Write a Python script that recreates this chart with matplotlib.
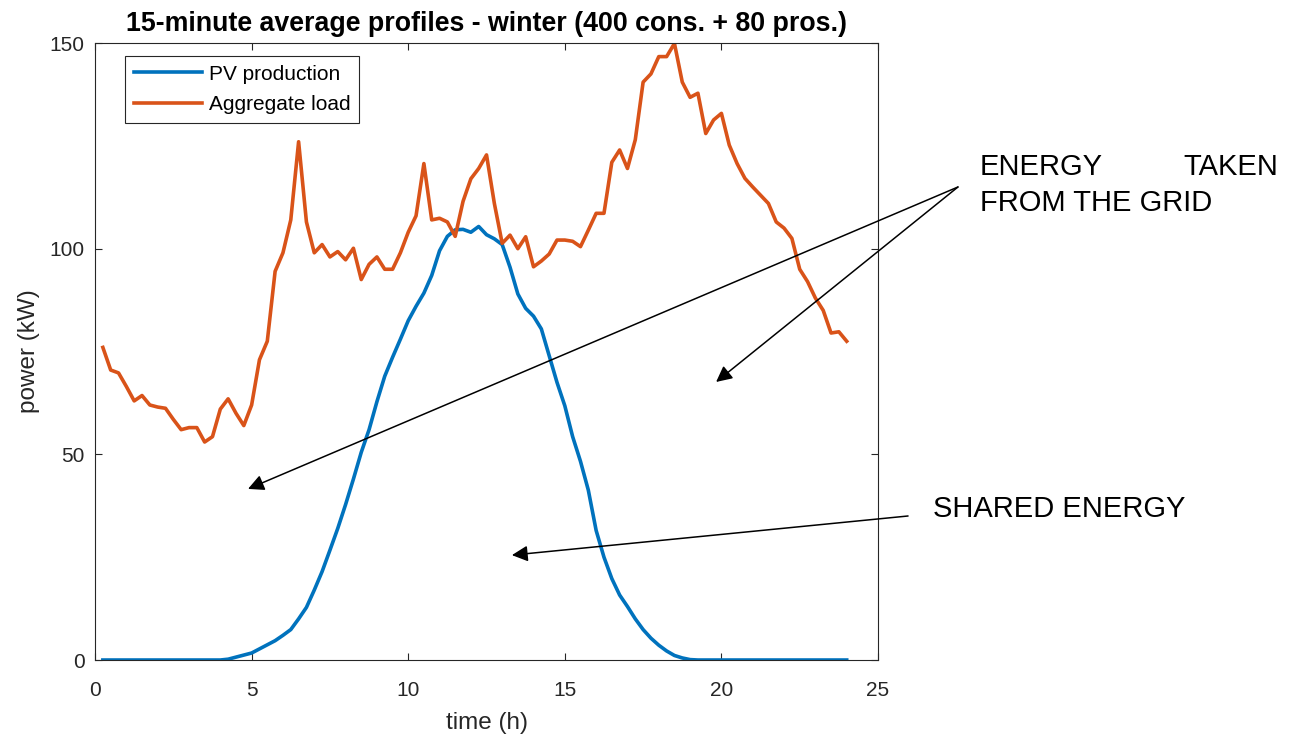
import matplotlib
matplotlib.use("Agg")
import matplotlib.pyplot as plt
import numpy as np

plt.rcParams['font.family'] = ['Liberation Sans', 'DejaVu Sans']

# quarter-hour steps, 0.25 h ... 24 h
hours = np.arange(1, 97) * 0.25

pv_kw = [
    0, 0, 0, 0, 0, 0, 0, 0, 0, 0, 0, 0, 0, 0, 0, 0,
    0.2, 0.7, 1.2, 1.7, 2.7, 3.7, 4.7, 6.0, 7.4, 10.0, 12.8, 17.0,
    21.5, 26.7, 32.0, 37.8, 44.0, 50.5, 56.0, 62.8, 69.0, 73.6, 78.0, 82.5,
    86.0, 89.2, 93.5, 99.5, 103.0, 104.6, 104.7, 104.0, 105.4, 103.4, 102.4, 101.0,
    95.5, 89.0, 85.5, 83.6, 80.5, 74.0, 67.5, 61.8, 54.3, 48.3, 41.3, 31.5,
    25.0, 19.8, 15.8, 13.0, 10.0, 7.4, 5.3, 3.6, 2.2, 1.1, 0.5, 0.1,
    0, 0, 0, 0, 0, 0, 0, 0, 0, 0, 0, 0, 0, 0, 0, 0, 0, 0, 0, 0,
]

load_kw = [
    76.0, 70.5, 69.8, 66.5, 63.0, 64.3, 62.0, 61.5, 61.2, 58.5, 56.0, 56.5,
    56.5, 53.0, 54.3, 61.0, 63.5, 60.0, 57.0, 62.0, 73.0, 77.5, 94.5, 99.0,
    107.0, 126.0, 106.5, 99.0, 101.0, 98.0, 99.3, 97.3, 100.1, 92.5, 96.2, 98.0,
    95.0, 95.0, 99.0, 104.0, 108.0, 120.7, 107.0, 107.4, 106.5, 103.0, 111.5, 117.0,
    119.5, 122.8, 111.0, 101.3, 103.3, 100.0, 102.9, 95.6, 97.0, 98.7, 102.1, 102.1,
    101.8, 100.5, 104.5, 108.6, 108.6, 121.0, 124.0, 119.5, 126.5, 140.5, 142.5, 146.7,
    146.7, 149.9, 140.5, 136.8, 137.8, 128.0, 131.3, 132.9, 125.2, 120.7, 117.1, 115.0,
    113.0, 111.0, 106.5, 105.0, 102.5, 95.0, 92.0, 88.0, 85.0, 79.5, 79.8, 77.5,
]

grey = '#262626'

fig = plt.figure(figsize=(13, 7.42), dpi=100)
ax = fig.add_axes([0.0731, 0.1105, 0.6023, 0.8315])

ax.plot(hours, pv_kw, color='#0072BD', lw=2.6, label='PV production')
ax.plot(hours, load_kw, color='#D95319', lw=2.6, label='Aggregate load')

ax.set_xlim(0, 25)
ax.set_ylim(0, 150)
ax.set_xticks([0, 5, 10, 15, 20, 25])
ax.set_yticks([0, 50, 100, 150])
ax.tick_params(direction='in', top=True, right=True, length=5, width=0.8,
               colors=grey, labelsize=15)
ax.tick_params(axis='x', pad=15)
ax.tick_params(axis='y', pad=7.5)
for s in ax.spines.values():
    s.set_color(grey)
    s.set_linewidth(0.8)

ax.set_xlabel('time (h)', fontsize=17.5, color=grey, labelpad=9)
ax.set_ylabel('power (kW)', fontsize=17.5, color=grey, labelpad=7)
ax.set_title('15-minute average profiles - winter (400 cons. + 80 pros.)',
             fontsize=19.3, fontweight='bold', pad=8.5)

leg = ax.legend(loc='upper left', bbox_to_anchor=(0.038, 0.979), borderaxespad=0,
                fontsize=15, fancybox=False, edgecolor=grey, framealpha=1,
                handlelength=3.3, handletextpad=0.3, borderpad=0.42, labelspacing=0.55)
leg.get_frame().set_linewidth(0.8)

# annotations: arrows from the labels on the right into the plot
arrow = dict(arrowstyle='-|>', color='k', lw=1.1, mutation_scale=24,
             shrinkA=0, shrinkB=0)
ax.annotate('', xy=(4.885, 41.6), xytext=(0.7369, 0.748),
            textcoords='figure fraction', arrowprops=arrow, annotation_clip=False)
ax.annotate('', xy=(19.83, 67.6), xytext=(0.7369, 0.748),
            textcoords='figure fraction', arrowprops=arrow, annotation_clip=False)
ax.annotate('', xy=(13.31, 25.5), xytext=(0.6985, 0.3046),
            textcoords='figure fraction', arrowprops=arrow, annotation_clip=False)

fig.text(980 / 1300, 0.7642, 'ENERGY', fontsize=21, va='baseline', ha='left')
fig.text(1278 / 1300, 0.7642, 'TAKEN', fontsize=21, va='baseline', ha='right')
fig.text(980 / 1300, 0.7163, 'FROM THE GRID', fontsize=21, va='baseline', ha='left')
fig.text(933 / 1300, 0.3039, 'SHARED ENERGY', fontsize=21, va='baseline', ha='left')

fig.savefig('out.png', dpi=100)
